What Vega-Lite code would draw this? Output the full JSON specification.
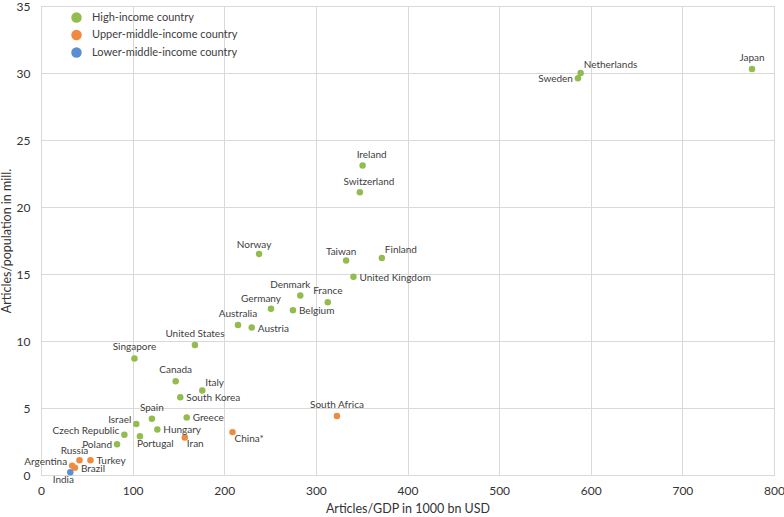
{
  "$schema": "https://vega.github.io/schema/vega-lite/v6.json",
  "width": 733,
  "height": 469,
  "autosize": {"type": "none"},
  "padding": {"left": 41, "top": 6, "right": 10, "bottom": 42},
  "background": "white",
  "config": {
    "font": "Lato",
    "view": {"stroke": "#d9d9d9", "strokeWidth": 1},
    "axis": {
      "grid": true,
      "gridColor": "#d9d9d9",
      "domainColor": "#d9d9d9",
      "ticks": false,
      "tickSize": 0,
      "labelFontSize": 12,
      "labelColor": "#333333",
      "titleFontSize": 12.5,
      "titleFontWeight": "normal",
      "titleColor": "#333333",
      "labelFlush": false
    },
    "legend": {
      "orient": "none",
      "legendX": 30,
      "legendY": 6,
      "padding": 0,
      "title": null,
      "symbolSize": 110,
      "symbolType": "circle",
      "symbolStrokeWidth": 0,
      "labelFontSize": 11,
      "labelColor": "#404040",
      "labelOffset": 10,
      "rowPadding": 5.5
    }
  },
  "data": {
    "values": [
      {"country": "Japan", "gdp": 776, "pop": 30.3, "income": "High-income country"},
      {"country": "Netherlands", "gdp": 589, "pop": 30.0, "income": "High-income country"},
      {"country": "Sweden", "gdp": 586, "pop": 29.6, "income": "High-income country"},
      {"country": "Ireland", "gdp": 351, "pop": 23.1, "income": "High-income country"},
      {"country": "Switzerland", "gdp": 348, "pop": 21.1, "income": "High-income country"},
      {"country": "Finland", "gdp": 372, "pop": 16.2, "income": "High-income country"},
      {"country": "Taiwan", "gdp": 333, "pop": 16.0, "income": "High-income country"},
      {"country": "Norway", "gdp": 238, "pop": 16.5, "income": "High-income country"},
      {"country": "United Kingdom", "gdp": 341, "pop": 14.8, "income": "High-income country"},
      {"country": "Denmark", "gdp": 283, "pop": 13.4, "income": "High-income country"},
      {"country": "France", "gdp": 313, "pop": 12.9, "income": "High-income country"},
      {"country": "Germany", "gdp": 251, "pop": 12.4, "income": "High-income country"},
      {"country": "Belgium", "gdp": 275, "pop": 12.3, "income": "High-income country"},
      {"country": "Australia", "gdp": 215, "pop": 11.2, "income": "High-income country"},
      {"country": "Austria", "gdp": 230, "pop": 11.0, "income": "High-income country"},
      {"country": "United States", "gdp": 168, "pop": 9.7, "income": "High-income country"},
      {"country": "Singapore", "gdp": 102, "pop": 8.7, "income": "High-income country"},
      {"country": "Canada", "gdp": 147, "pop": 7.0, "income": "High-income country"},
      {"country": "Italy", "gdp": 176, "pop": 6.3, "income": "High-income country"},
      {"country": "South Korea", "gdp": 152, "pop": 5.8, "income": "High-income country"},
      {"country": "Spain", "gdp": 121, "pop": 4.2, "income": "High-income country"},
      {"country": "Greece", "gdp": 159, "pop": 4.3, "income": "High-income country"},
      {"country": "Israel", "gdp": 104, "pop": 3.8, "income": "High-income country"},
      {"country": "Hungary", "gdp": 127, "pop": 3.4, "income": "High-income country"},
      {"country": "Czech Republic", "gdp": 91, "pop": 3.0, "income": "High-income country"},
      {"country": "Portugal", "gdp": 108, "pop": 2.9, "income": "High-income country"},
      {"country": "Poland", "gdp": 83, "pop": 2.3, "income": "High-income country"},
      {"country": "South Africa", "gdp": 323, "pop": 4.4, "income": "Upper-middle-income country"},
      {"country": "China*", "gdp": 209, "pop": 3.2, "income": "Upper-middle-income country"},
      {"country": "Iran", "gdp": 157, "pop": 2.8, "income": "Upper-middle-income country"},
      {"country": "Russia", "gdp": 42, "pop": 1.1, "income": "Upper-middle-income country"},
      {"country": "Turkey", "gdp": 54, "pop": 1.1, "income": "Upper-middle-income country"},
      {"country": "Argentina", "gdp": 34, "pop": 0.7, "income": "Upper-middle-income country"},
      {"country": "Brazil", "gdp": 37, "pop": 0.55, "income": "Upper-middle-income country"},
      {"country": "India", "gdp": 32, "pop": 0.2, "income": "Lower-middle-income country"}
    ]
  },
  "encoding": {
    "x": {
      "field": "gdp",
      "type": "quantitative",
      "scale": {"domain": [0, 800], "nice": false},
      "axis": {"values": [0, 100, 200, 300, 400, 500, 600, 700, 800], "title": "Articles/GDP in 1000 bn USD", "labelPadding": 10, "titlePadding": 6}
    },
    "y": {
      "field": "pop",
      "type": "quantitative",
      "scale": {"domain": [0, 35], "nice": false},
      "axis": {"values": [0, 5, 10, 15, 20, 25, 30, 35], "title": "Articles/population in mill.", "labelPadding": 11, "titlePadding": 3}
    }
  },
  "layer": [
    {
      "mark": {"type": "point", "filled": true, "opacity": 1, "size": 42},
      "encoding": {
        "color": {
          "field": "income",
          "type": "nominal",
          "scale": {
            "domain": ["High-income country", "Upper-middle-income country", "Lower-middle-income country"],
            "range": ["#92BC4E", "#F08A3E", "#5B8FD0"]
          }
        }
      }
    },
    {
      "transform": [{"filter": {"field": "country", "oneOf": ["Japan", "France", "Australia", "United States", "Singapore", "Canada", "Spain", "South Africa"]}}],
      "mark": {"type": "text", "fontSize": 10, "color": "#404040", "align": "center", "baseline": "middle", "dy": -11},
      "encoding": {"text": {"field": "country"}}
    },
    {
      "transform": [{"filter": {"field": "country", "oneOf": ["Taiwan", "Russia", "Norway"]}}],
      "mark": {"type": "text", "fontSize": 10, "color": "#404040", "align": "center", "baseline": "middle", "dx": -5, "dy": -9},
      "encoding": {"text": {"field": "country"}}
    },
    {
      "transform": [{"filter": {"field": "country", "oneOf": ["Ireland", "Switzerland"]}}],
      "mark": {"type": "text", "fontSize": 10, "color": "#404040", "align": "center", "baseline": "middle", "dx": 9, "dy": -10},
      "encoding": {"text": {"field": "country"}}
    },
    {
      "transform": [{"filter": {"field": "country", "oneOf": ["Denmark", "Germany"]}}],
      "mark": {"type": "text", "fontSize": 10, "color": "#404040", "align": "center", "baseline": "middle", "dx": -10, "dy": -10},
      "encoding": {"text": {"field": "country"}}
    },
    {
      "transform": [{"filter": {"field": "country", "oneOf": ["United Kingdom", "Belgium", "Austria", "South Korea", "Greece", "Hungary", "Turkey", "Brazil"]}}],
      "mark": {"type": "text", "fontSize": 10, "color": "#404040", "align": "left", "baseline": "middle", "dx": 6, "dy": 1},
      "encoding": {"text": {"field": "country"}}
    },
    {
      "transform": [{"filter": {"field": "country", "oneOf": ["Netherlands", "Finland", "Italy"]}}],
      "mark": {"type": "text", "fontSize": 10, "color": "#404040", "align": "left", "baseline": "middle", "dx": 3, "dy": -8},
      "encoding": {"text": {"field": "country"}}
    },
    {
      "transform": [{"filter": {"field": "country", "oneOf": ["Iran", "China*"]}}],
      "mark": {"type": "text", "fontSize": 10, "color": "#404040", "align": "left", "baseline": "middle", "dx": 2, "dy": 7},
      "encoding": {"text": {"field": "country"}}
    },
    {
      "transform": [{"filter": {"field": "country", "oneOf": ["Portugal"]}}],
      "mark": {"type": "text", "fontSize": 10, "color": "#404040", "align": "left", "baseline": "middle", "dx": -3, "dy": 8},
      "encoding": {"text": {"field": "country"}}
    },
    {
      "transform": [{"filter": {"field": "country", "oneOf": ["Israel", "Argentina", "Czech Republic"]}}],
      "mark": {"type": "text", "fontSize": 10, "color": "#404040", "align": "right", "baseline": "middle", "dx": -5, "dy": -4},
      "encoding": {"text": {"field": "country"}}
    },
    {
      "transform": [{"filter": {"field": "country", "oneOf": ["Poland", "Sweden"]}}],
      "mark": {"type": "text", "fontSize": 10, "color": "#404040", "align": "right", "baseline": "middle", "dx": -5, "dy": 1},
      "encoding": {"text": {"field": "country"}}
    },
    {
      "transform": [{"filter": {"field": "country", "oneOf": ["India"]}}],
      "mark": {"type": "text", "fontSize": 10, "color": "#404040", "align": "center", "baseline": "middle", "dx": -7, "dy": 8},
      "encoding": {"text": {"field": "country"}}
    }
  ]
}
